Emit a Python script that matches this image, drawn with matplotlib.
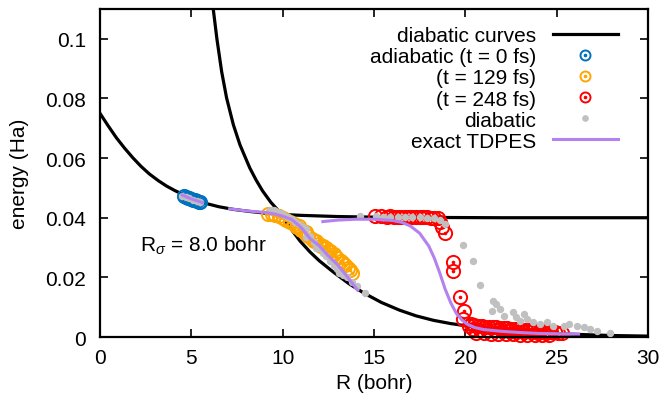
import matplotlib
matplotlib.use('Agg')
import matplotlib.pyplot as plt
from matplotlib.lines import Line2D

plt.rcParams['font.family'] = ['Liberation Sans', 'DejaVu Sans']
plt.rcParams['mathtext.fontset'] = 'custom'
plt.rcParams['mathtext.rm'] = 'Liberation Sans'
plt.rcParams['mathtext.it'] = 'Liberation Sans:italic'
plt.rcParams['font.size'] = 15

# diabatic curves
r_d1 = [0, 0.45, 0.9, 1.35, 1.8, 2.25, 2.7, 3.2, 3.65, 4.1, 4.55, 5.2, 5.8, 6.5,
        7.3, 8.2, 9.1, 10, 11, 13, 15, 18, 22, 30]
e_d1 = [0.075, 0.0708, 0.0668, 0.0633, 0.0601, 0.0572, 0.0547, 0.0524, 0.0506,
        0.0491, 0.0478, 0.0461, 0.0448, 0.0437, 0.0428, 0.0421, 0.0415, 0.0411,
        0.0408, 0.0404, 0.0402, 0.0401, 0.0400, 0.0400]
r_d2 = [6.2, 6.4, 6.66, 6.93, 7.3, 7.66, 7.95, 8.2, 8.55, 8.9, 9.35, 9.85, 10.4,
        10.95, 11.5, 12.0, 12.77, 13.6, 14.4, 15.4, 16.4, 17.3, 18.25, 19.2, 20.1,
        21, 22, 23, 24, 25, 26, 28, 30]
e_d2 = [0.110, 0.100, 0.089, 0.0802, 0.0712, 0.0645, 0.0603, 0.0567, 0.0526, 0.0490,
        0.0452, 0.0418, 0.0367, 0.0322, 0.0285, 0.0256, 0.0218, 0.0180, 0.0149,
        0.0116, 0.0090, 0.0071, 0.0056, 0.0045, 0.0037, 0.0029, 0.0023, 0.0018,
        0.0014, 0.0011, 0.0009, 0.0005, 0.0003]

# adiabatic points, t = 0 fs
r_a0 = [4.6, 4.7, 4.8, 4.9, 5.0, 5.1, 5.2, 5.3, 5.4, 5.5]
e_a0 = [0.0472, 0.0469, 0.0467, 0.0465, 0.0462, 0.0460, 0.0458, 0.0456, 0.0454, 0.0452]

# adiabatic points, t = 129 fs
r_a1 = [9.2, 9.4, 9.6, 9.8, 10.0, 10.2, 10.4, 10.6, 10.8, 11.0, 11.2, 11.4, 11.6,
        11.8, 12.0, 12.2, 12.4, 12.6, 12.8, 13.0, 13.2, 13.4, 13.6, 13.8,
        10.9, 11.3, 11.7, 12.1, 12.5, 12.9, 13.3, 13.7]
e_a1 = [0.0412, 0.0413, 0.0410, 0.0405, 0.0400, 0.0393, 0.0385, 0.0378, 0.0368,
        0.0358, 0.0348, 0.0340, 0.0330, 0.0322, 0.0313, 0.0305, 0.0297, 0.0287,
        0.0277, 0.0266, 0.0255, 0.0242, 0.0230, 0.0215,
        0.0373, 0.0352, 0.0322, 0.0305, 0.0287, 0.0268, 0.0248, 0.0225]

# adiabatic points, t = 248 fs
r_a2 = [15.05, 15.4, 15.7, 15.9, 16.1, 16.3, 16.5, 16.7, 16.9, 17.1, 17.3, 17.5,
        17.7, 17.9, 18.1, 18.3, 18.5, 18.6, 18.75, 18.9,
        19.3, 19.35, 19.7, 19.95, 19.9, 20.2,
        20.3, 20.5, 20.7, 20.9, 21.1, 21.3, 21.5, 21.7, 21.9, 22.1, 22.3, 22.5,
        22.7, 22.9, 23.1, 23.3, 23.5, 23.7, 23.9, 24.1, 24.3, 24.5, 24.7, 24.9,
        25.1, 25.3,
        20.4, 20.8, 21.2, 21.6, 22.0, 22.4, 22.8, 23.2, 23.6, 24.0, 24.4,
        20.6, 21.0, 21.4, 21.8, 22.2, 22.6, 23.0, 23.4, 23.8, 24.2, 24.6]
e_a2 = [0.0406, 0.0405, 0.0404, 0.0405, 0.0404, 0.0403, 0.0404, 0.0403, 0.0402,
        0.0403, 0.0402, 0.0401, 0.0402, 0.0401, 0.0400, 0.0399, 0.0398, 0.0385,
        0.0368, 0.0350,
        0.0250, 0.0222, 0.0133, 0.0088, 0.0060, 0.0036,
        0.0044, 0.0041, 0.0038, 0.0036, 0.0035, 0.0034, 0.0033, 0.0032, 0.0031,
        0.0030, 0.0029, 0.0028, 0.0027, 0.0026, 0.0025, 0.0024, 0.0023, 0.0022,
        0.0021, 0.0020, 0.0019, 0.0018, 0.0017, 0.0016, 0.0015, 0.0014,
        0.0027, 0.0025, 0.0024, 0.0022, 0.0021, 0.0020, 0.0018, 0.0017, 0.0016,
        0.0015, 0.0013,
        0.0013, 0.0012, 0.0011, 0.0010, 0.0009, 0.0009, 0.0008, 0.0008, 0.0007,
        0.0007, 0.0006]

# diabatic points (all three times)
r_dia = [4.5, 4.7, 4.9, 5.1, 5.3, 5.5,
         9.3, 9.5, 9.7, 9.9, 10.1, 10.3, 10.5, 10.7, 10.9, 11.1, 11.3, 11.3, 11.5,
         11.7, 11.8, 12.0, 12.2, 12.4, 12.6, 12.8, 13.0, 13.1, 13.3, 13.5, 13.8,
         14.05, 14.5,
         14.25, 15.1, 15.5, 15.9, 16.3, 16.7, 17.1, 17.5, 17.9, 18.3, 18.6, 18.9,
         19.9, 20.4, 20.8, 21.5, 21.7, 21.9, 21.45, 22.1, 22.6, 22.8, 23.2, 23.4,
         23.0, 23.7, 24.1, 24.45, 24.8, 25.4, 25.7, 26.1, 26.5, 26.8, 27.2, 27.9]
e_dia = [0.0473, 0.0469, 0.0465, 0.0460, 0.0456, 0.0452,
         0.0425, 0.0425, 0.0420, 0.0415, 0.0410, 0.0402, 0.0395, 0.0385, 0.0378,
         0.0370, 0.0362, 0.0335, 0.0340, 0.0318, 0.0300, 0.0300, 0.0283, 0.0272,
         0.0255, 0.0240, 0.0228, 0.0216, 0.0208, 0.0200, 0.0185, 0.0172, 0.0146,
         0.0407, 0.0405, 0.0404, 0.0403, 0.0404, 0.0402, 0.0402, 0.0401, 0.0400,
         0.0398, 0.0392, 0.0378,
         0.0308, 0.0255, 0.0175, 0.0121, 0.0110, 0.0094, 0.0086, 0.0071, 0.0083,
         0.0066, 0.0077, 0.0060, 0.0052, 0.0049, 0.0043, 0.0049, 0.0038, 0.0038,
         0.0043, 0.0038, 0.0032, 0.0027, 0.0021, 0.0013]

# exact TDPES at the three times
r_ex0 = [4.5, 4.8, 5.1, 5.4, 5.6]
e_ex0 = [0.0476, 0.0468, 0.0461, 0.0455, 0.0451]
r_ex1 = [7.1, 8.0, 9.0, 9.6, 10.0, 10.5, 11.0, 11.5, 12.0, 12.5, 13.0, 13.5, 14.1]
e_ex1 = [0.0430, 0.0423, 0.0418, 0.0412, 0.0405, 0.0394, 0.0368, 0.0330, 0.0306,
         0.0272, 0.0243, 0.0205, 0.0157]
r_ex2 = [12.2, 13, 14, 15, 16, 16.5, 17, 17.5, 18, 18.3, 18.6, 18.9, 19.2, 19.5,
         19.8, 20.1, 20.5, 21, 22, 23, 24, 25, 26.2]
e_ex2 = [0.0387, 0.0392, 0.0395, 0.0395, 0.0391, 0.0385, 0.0372, 0.0348, 0.0305,
         0.0265, 0.0215, 0.0160, 0.0115, 0.0080, 0.0058, 0.0043, 0.0032, 0.0025,
         0.0019, 0.0015, 0.0012, 0.0011, 0.0010]

c_blue, c_orange, c_red = '#0072bd', '#ffa500', '#ff0000'
c_gray, c_purple = '#c0c0c0', '#b482f0'

fig = plt.figure(figsize=(6.6, 4.1), dpi=100)
ax = fig.add_axes([0.1515, 0.1756, 0.8303, 0.8])

ax.plot(r_d1, e_d1, color='black', lw=2.3, zorder=1)
ax.plot(r_d2, e_d2, color='black', lw=2.3, zorder=1)

for r, e, c in [(r_a0, e_a0, c_blue), (r_a1, e_a1, c_orange), (r_a2, e_a2, c_red)]:
    ax.plot(r, e, ls='none', marker='o', ms=9.5, mfc='none', mec=c, mew=1.4,
            zorder=2, clip_on=False)
    ax.plot(r, e, ls='none', marker='o', ms=1.6, mfc=c, mec=c, zorder=2,
            clip_on=False)

ax.plot(r_dia, e_dia, ls='none', marker='o', ms=5.3, mfc=c_gray, mec='none', zorder=3)

for r, e in [(r_ex0, e_ex0), (r_ex1, e_ex1), (r_ex2, e_ex2)]:
    ax.plot(r, e, color=c_purple, lw=2.2, zorder=4)

ax.text(2.2, 0.031, r'R$_\sigma$ = 8.0 bohr', va='center', ha='left')

ax.set_xlim(0, 30)
ax.set_ylim(0, 0.11)
ax.set_xticks([0, 5, 10, 15, 20, 25, 30])
ax.set_yticks([0, 0.02, 0.04, 0.06, 0.08, 0.1])
ax.set_yticklabels(['0', '0.02', '0.04', '0.06', '0.08', '0.1'])
ax.tick_params(direction='in', length=6, width=1.2, top=True, right=True)
ax.tick_params(axis='x', pad=8)
ax.tick_params(axis='y', pad=10)
for s in ax.spines.values():
    s.set_linewidth(1.6)
ax.set_xlabel('R (bohr)', labelpad=4)
ax.set_ylabel('energy (Ha)', labelpad=12)


def circ(c):
    return (Line2D([], [], ls='none', marker='o', ms=7.2, mfc='none', mec=c, mew=1.4),
            Line2D([], [], ls='none', marker='o', ms=1.6, mfc=c, mec=c))


handles = [Line2D([], [], color='black', lw=2.3), circ(c_blue), circ(c_orange), circ(c_red),
           Line2D([], [], ls='none', marker='o', ms=4.8, mfc=c_gray, mec='none'),
           Line2D([], [], color=c_purple, lw=2.2)]
labels = ['diabatic curves', 'adiabatic (t = 0 fs)', '(t = 129 fs)', '(t = 248 fs)',
          'diabatic', 'exact TDPES']
ax.legend(handles, labels, loc='upper right', bbox_to_anchor=(0.952, 0.96),
          frameon=False, markerfirst=False, handlelength=3.1, handletextpad=0.8,
          labelspacing=0.1, borderpad=0.2, borderaxespad=0)

fig.savefig('out.png', dpi=100)
